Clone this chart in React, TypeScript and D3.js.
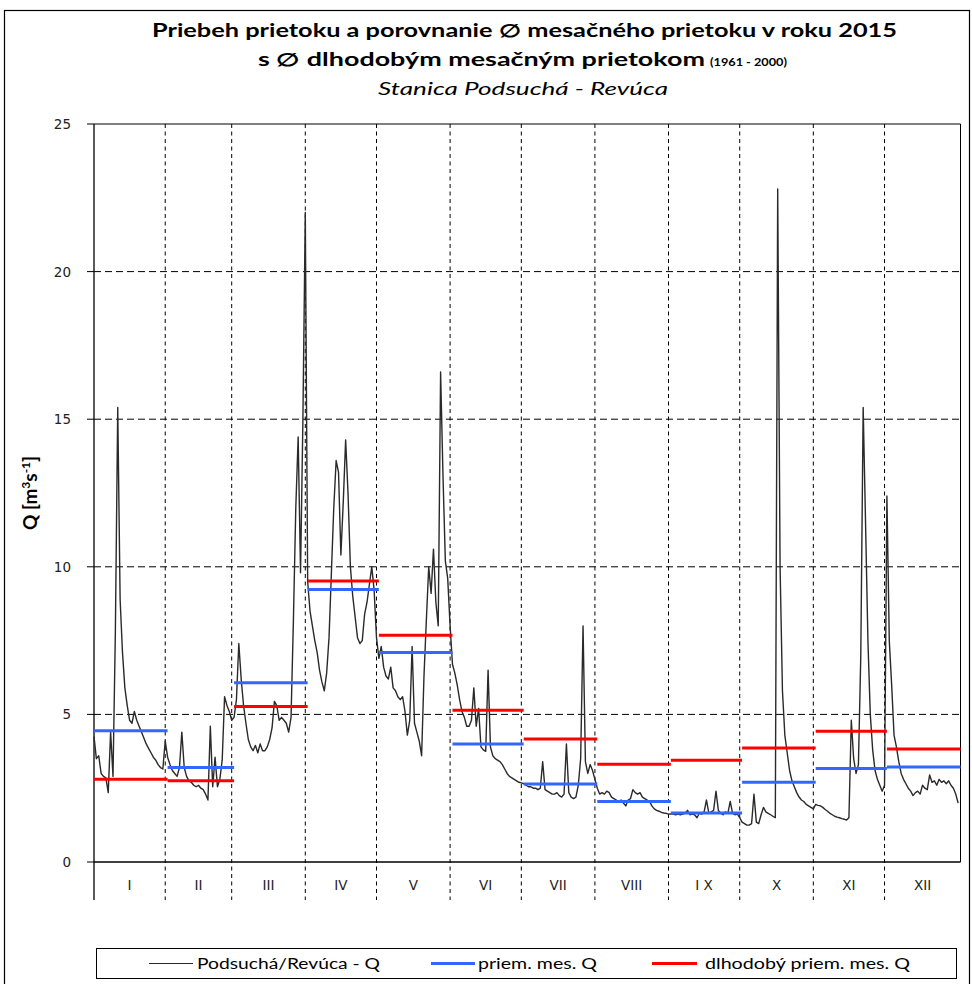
import * as d3 from "d3";

// denné prietoky 2015 (m3/s), po mesiacoch
const qJan = [4.25, 3.5, 3.6, 3.0, 2.9, 2.85, 2.35, 4.4, 2.9, 7.8, 15.4, 8.9, 7.1, 5.9, 5.3, 4.8, 4.7, 5.1, 4.8, 4.6, 4.4, 4.2, 4.0, 3.85, 3.7, 3.55, 3.45, 3.3, 3.2, 3.15, 4.1];
const qFeb = [3.55, 3.3, 3.1, 3.0, 2.9, 3.2, 4.4, 3.2, 2.9, 2.75, 2.7, 2.6, 2.55, 2.6, 2.5, 2.45, 2.3, 2.1, 4.6, 2.55, 3.55, 2.55, 2.8, 3.45, 5.6, 5.3, 5.1, 4.8];
const qMar = [4.9, 5.5, 7.4, 6.2, 5.3, 4.7, 4.15, 3.9, 3.77, 3.95, 3.7, 4.0, 3.77, 3.77, 3.9, 4.15, 4.54, 5.44, 5.3, 4.8, 4.9, 4.8, 4.7, 4.4, 4.9, 8.2, 12.0, 14.4, 9.8, 15.0, 22.0];
const qApr = [9.5, 8.5, 8.0, 7.5, 7.1, 6.5, 6.1, 5.8, 6.4, 7.6, 9.8, 12.0, 13.6, 13.2, 10.4, 12.2, 14.3, 12.5, 10.0, 9.0, 8.3, 7.6, 7.4, 7.5, 8.4, 8.8, 9.4, 10.0, 9.2, 7.6];
const qMay = [6.9, 7.3, 6.6, 6.3, 6.2, 6.6, 5.9, 5.8, 5.6, 5.5, 5.6, 5.1, 4.3, 4.8, 7.3, 4.7, 4.4, 4.1, 3.6, 6.3, 8.2, 10.0, 9.1, 10.6, 8.8, 8.0, 16.6, 13.1, 10.2, 9.6, 8.0];
const qJun = [6.7, 6.4, 6.0, 5.5, 5.1, 4.9, 4.6, 4.6, 4.8, 5.9, 4.6, 5.2, 3.9, 3.8, 3.75, 6.5, 3.9, 3.6, 3.5, 3.45, 3.4, 3.3, 3.15, 3.0, 2.9, 2.85, 2.8, 2.75, 2.7, 2.68];
const qJul = [2.65, 2.6, 2.55, 2.55, 2.5, 2.5, 2.45, 2.5, 3.4, 2.45, 2.4, 2.35, 2.3, 2.3, 2.35, 2.25, 2.2, 2.3, 4.0, 2.35, 2.2, 2.15, 2.2, 2.6, 3.5, 8.0, 3.4, 3.0, 3.3, 3.1, 2.8];
const qAug = [2.5, 2.3, 2.35, 2.3, 2.4, 2.35, 2.2, 2.15, 2.1, 2.05, 2.1, 2.0, 1.9, 2.1, 2.15, 2.45, 2.35, 2.3, 2.35, 2.2, 2.15, 2.1, 2.05, 1.9, 1.8, 1.75, 1.72, 1.68, 1.66, 1.65, 1.62];
const qSep = [1.63, 1.62, 1.6, 1.62, 1.6, 1.62, 1.65, 1.75, 1.6, 1.62, 1.6, 1.5, 1.65, 1.62, 1.7, 2.1, 1.65, 1.7, 1.75, 2.4, 1.75, 1.65, 1.6, 1.7, 1.65, 2.05, 1.65, 1.6, 1.62, 1.5];
const qOct = [1.35, 1.3, 1.25, 1.25, 1.3, 2.3, 1.35, 1.3, 1.6, 1.85, 1.7, 1.65, 1.6, 1.55, 1.5, 22.8, 10.0, 5.8, 4.3, 3.7, 3.1, 2.75, 2.55, 2.35, 2.2, 2.1, 2.05, 1.95, 1.9, 1.85, 1.8];
const qNov = [1.95, 1.92, 1.9, 1.85, 1.78, 1.72, 1.65, 1.6, 1.55, 1.52, 1.5, 1.47, 1.45, 1.42, 1.5, 4.8, 3.5, 3.0, 3.3, 7.0, 15.4, 11.5, 7.5, 5.0, 3.8, 3.1, 2.8, 2.6, 2.4, 2.6];
const qDec = [12.4, 7.5, 6.0, 4.3, 3.9, 3.4, 3.0, 2.8, 2.65, 2.5, 2.4, 2.25, 2.35, 2.4, 2.3, 2.6, 2.5, 2.45, 2.95, 2.7, 2.75, 2.6, 2.8, 2.7, 2.75, 2.65, 2.75, 2.6, 2.5, 2.3, 2.0];

const dailyQ = [...qJan, ...qFeb, ...qMar, ...qApr, ...qMay, ...qJun, ...qJul, ...qAug, ...qSep, ...qOct, ...qNov, ...qDec];

// priemerné mesačné prietoky 2015 a dlhodobé (1961-2000)
const meanMonth2015 = [4.45, 3.2, 6.07, 9.23, 7.1, 4.0, 2.64, 2.05, 1.66, 2.7, 3.17, 3.22];
const meanLongTerm = [2.8, 2.75, 5.27, 9.52, 7.68, 5.14, 4.17, 3.31, 3.45, 3.86, 4.43, 3.83];

const monthLabels = ["I", "II", "III", "IV", "V", "VI", "VII", "VIII", "I X", "X", "XI", "XII"];
const monthDays = [31, 28, 31, 30, 31, 30, 31, 31, 30, 31, 30, 31];
const yTicks = [0, 5, 10, 15, 20, 25];

const W = 972, H = 984;
const L = 94, R = 960.5, T = 124, B = 862;
const BLUE = "#3366ff", RED = "#ff0000", INK = "#222";
const CAL = "Lato, 'Open Sans', sans-serif";
const VER = "'DejaVu Sans', Verdana, sans-serif";

export default function App() {
  const x = d3.scaleLinear().domain([0, 365]).range([L, R]);
  const y = d3.scaleLinear().domain([0, 25]).range([B, T]);
  const cum = [0, ...d3.cumsum(monthDays)];

  const line = d3.line<number>().x((_, i) => x(i)).y((d) => y(d));

  // hranice mesiacov = posledný deň mesiaca
  const bounds = cum.slice(1, 12).map((c) => x(c - 1));
  const edges = [L, ...bounds, R];

  const seg = (vals: number[], color: string) =>
    vals.map((v, m) => (
      <line key={color + m} x1={x(cum[m])} x2={x(cum[m + 1])} y1={y(v)} y2={y(v)}
        stroke={color} strokeWidth={3} />
    ));

  return (
    <div style={{ position: "absolute", left: 0, top: 0 }}>
      <svg width={W} height={H} style={{ display: "block", background: "#fff" }}>
        <rect x={4.5} y={10.5} width={965} height={1000} fill="#fff" stroke="#000" strokeWidth={1.2} />

        {/* nadpis */}
        <text x={524.5} y={37} textAnchor="middle" fontFamily={CAL} fontWeight={700} fontSize={18}
          textLength={745} lengthAdjust="spacingAndGlyphs" fill="#000">
          Priebeh prietoku a porovnanie ∅ mesačného prietoku v roku 2015
        </text>
        <text x={258} y={66} fontFamily={CAL} fontWeight={700} fontSize={18}
          textLength={447} lengthAdjust="spacingAndGlyphs" fill="#000">
          s ∅ dlhodobým mesačným prietokom
        </text>
        <text x={710} y={66} fontFamily={CAL} fontWeight={700} fontSize={11.5}
          textLength={77} lengthAdjust="spacingAndGlyphs" fill="#000">
          (1961 - 2000)
        </text>
        <text x={523} y={95} textAnchor="middle" fontFamily={CAL} fontStyle="italic" fontSize={18}
          textLength={290} lengthAdjust="spacingAndGlyphs" fill="#000">
          Stanica Podsuchá - Revúca
        </text>

        {/* mriežka */}
        {yTicks.filter((t) => t > 0 && t < 25).map((t) => (
          <line key={"g" + t} x1={L} x2={R} y1={y(t)} y2={y(t)} stroke="#000" strokeDasharray="7,4" />
        ))}
        {bounds.map((bx, i) => (
          <line key={"v" + i} x1={bx} x2={bx} y1={T} y2={900} stroke="#000" strokeDasharray="4,3.5" />
        ))}

        {/* osi a rám */}
        <line x1={L} x2={R} y1={T} y2={T} stroke="#000" />
        <line x1={R} x2={R} y1={T} y2={B} stroke="#000" />
        <line x1={L} x2={R} y1={B} y2={B} stroke="#000" strokeWidth={1.3} />
        <line x1={L} x2={L} y1={T} y2={900} stroke="#000" strokeWidth={1.3} />
        {yTicks.map((t) => (
          <g key={"t" + t}>
            <line x1={87} x2={L} y1={y(t)} y2={y(t)} stroke="#000" />
            <text x={71} y={y(t) + 5} textAnchor="end" fontFamily={VER} fontSize={13.5} fill={INK}>{t}</text>
          </g>
        ))}
        {monthLabels.map((lab, m) => (
          <text key={lab} x={(edges[m] + edges[m + 1]) / 2} y={890} textAnchor="middle"
            fontFamily={VER} fontSize={13.5} fill={INK}>{lab}</text>
        ))}

        <text transform={`translate(37,493) rotate(-90)`} textAnchor="middle" fontFamily={CAL}
          fontWeight={700} fontSize={19} fill="#000">
          Q [m<tspan dy={-7} fontSize={12}>3</tspan><tspan dy={7}>s</tspan>
          <tspan dy={-7} fontSize={12}>-1</tspan><tspan dy={7}>]</tspan>
        </text>

        {/* dáta */}
        <path d={line(dailyQ) ?? ""} fill="none" stroke="#2a2a2a" strokeWidth={1.4} strokeLinejoin="round" />
        {seg(meanMonth2015, BLUE)}
        {seg(meanLongTerm, RED)}

        {/* legenda */}
        <rect x={96.5} y={948.5} width={860} height={30} fill="#fff" stroke="#000" />
        <line x1={149} x2={193} y1={963.5} y2={963.5} stroke="#2a2a2a" strokeWidth={1.1} />
        <text x={197} y={969} fontFamily={CAL} fontSize={15.5} textLength={183} lengthAdjust="spacingAndGlyphs">Podsuchá/Revúca - Q</text>
        <line x1={431} x2={475} y1={963.5} y2={963.5} stroke={BLUE} strokeWidth={3} />
        <text x={478} y={969} fontFamily={CAL} fontSize={15.5} textLength={119} lengthAdjust="spacingAndGlyphs">priem. mes. Q</text>
        <line x1={652} x2={697} y1={963.5} y2={963.5} stroke={RED} strokeWidth={3} />
        <text x={705} y={969} fontFamily={CAL} fontSize={15.5} textLength={205} lengthAdjust="spacingAndGlyphs">dlhodobý priem. mes. Q</text>
      </svg>
    </div>
  );
}
